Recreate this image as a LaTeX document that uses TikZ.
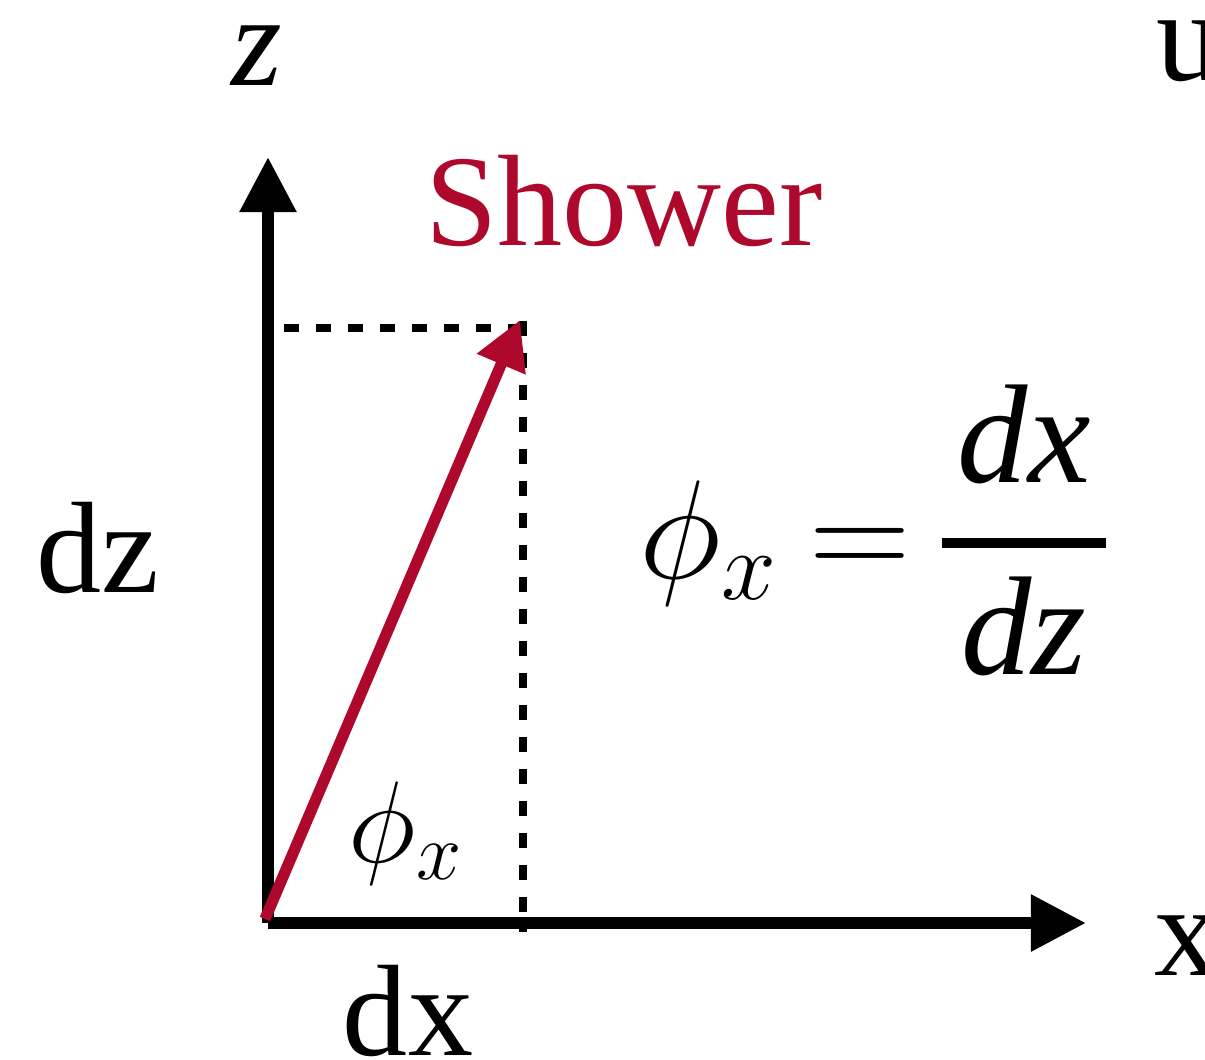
\RequirePackage{fix-cm}
\documentclass[tikz,border=0pt]{standalone}
\usepackage{amsmath}
\usepackage{fontspec}
\setmainfont{Liberation Serif}
\usepackage{tikz}
\usetikzlibrary{arrows.meta}
\tikzset{
  axis/.style={line width=3.4pt, -{Triangle[length=0.55cm,width=0.54cm]}},
  guide/.style={line width=2.3pt, dash pattern=on 0.15cm off 0.17cm},
  showerarrow/.style={showerred, line width=3.2pt, -{Triangle[length=0.48cm,width=0.5cm]}},
  lbl/.style={inner sep=0pt, font=\fontsize{37}{42}\selectfont}
}
\definecolor{showerred}{RGB}{175,8,45}

\begin{document}
\begin{tikzpicture}[x=0.01cm, y=-0.01cm]
    \useasboundingbox (0,0) rectangle (1205,1060);

      % axis points
      \coordinate (origin) at (268,923);
      \coordinate (ztip) at (268,157);
      \coordinate (xtip) at (1086,923);

      % shower direction and its projections
      \coordinate (showerfoot) at (265,919);
      \coordinate (showertip) at (520,320);
      \coordinate (corner) at (523,328);
      \coordinate (dzmark) at (272,328);
      \coordinate (dxmark) at (523,932);

      % projections
      \draw[guide] (corner) -- (dzmark);
      \draw[guide] ([yshift=2pt]corner) -- (dxmark);

      % axes
      \draw[axis] (origin) -- (ztip);
      \draw[axis] (origin) -- (xtip);

      % shower
      \draw[showerarrow] (showerfoot) -- (showertip);

      % labels
      \node[lbl, anchor=base] (zlabel) at (257,85) {\textit{z}};
      \node[lbl, anchor=base] (ulabel) at (1189,80) {u};
      \node[lbl, anchor=base] (xlabel) at (1187,975) {x};
      \node[lbl, anchor=base, text=showerred] (shower) at (624,245) {Shower};
      \node[lbl, anchor=base] (dzlabel) at (98,592) {dz};
      \node[lbl, anchor=base] (dxlabel) at (408,1055) {dx};
      \node[lbl, font=\fontsize{33}{38}\selectfont] (anglelabel) at (406,833) {$\phi_x$};
      \node[lbl, anchor=base west, font=\fontsize{40}{46}\selectfont] (relation) at (639,578)
        {$\phi_x \mkern-1mu = \mkern-1.5mu \genfrac{}{}{2.8pt}{0}{\hspace{4.5pt}\textit{dx}\hspace{4.5pt}}{\textit{dz}}$};

    \end{tikzpicture}
\end{document}
